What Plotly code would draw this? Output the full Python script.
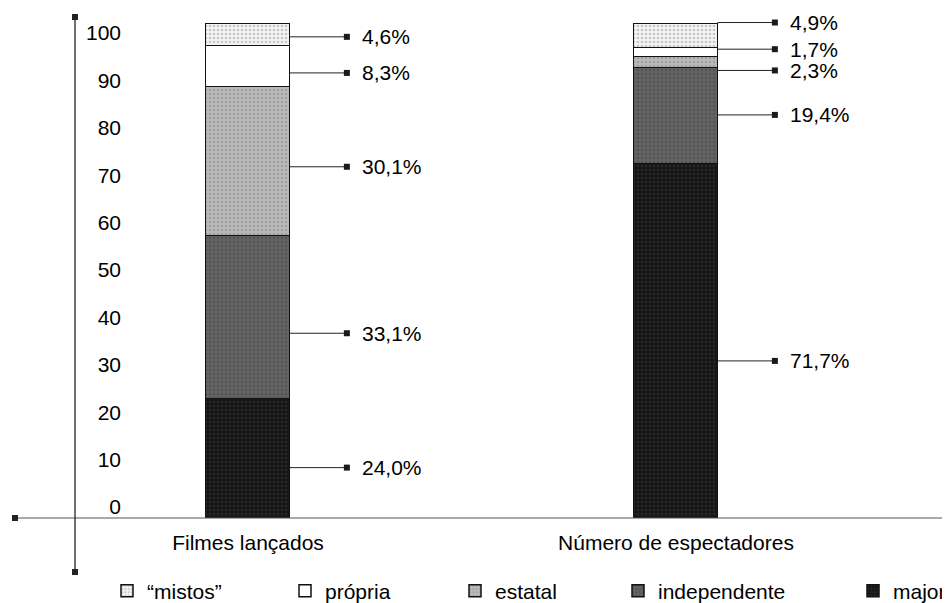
import plotly.graph_objects as go

# ---- data ----
categories = ["Filmes lançados", "Número de espectadores"]
series_names = ["major", "independente", "estatal", "própria", "“mistos”"]
major = [24.0, 71.7]
independente = [33.1, 19.4]
estatal = [30.1, 2.3]
propria = [8.3, 1.7]
mistos = [4.6, 4.9]
y_ticks = [0, 10, 20, 30, 40, 50, 60, 70, 80, 90, 100]

# leader-line anchor heights (data units) for the value labels, per category
label_y_filmes = [10.2, 37.4, 71.1, 90.1, 97.4]
label_y_espect = [31.8, 81.6, 90.6, 94.9, 100.3]

# ---- styling ----
OFF = 8                      # default page margin of the html body
W, H = 950 - OFF, 603 - OFF
ML, MR, MT, MB = 0, 0, 0, 85
PW, PH = W - ML - MR, H - MT - MB
FONT = "Liberation Sans, Arial, sans-serif"
FS = 21
TXT = "#000000"

styles = {
    "major": dict(bg="#161616", fg="#3a3a3a"),
    "independente": dict(bg="#636363", fg="#444444"),
    "estatal": dict(bg="#bababa", fg="#858585"),
    "própria": dict(bg="#ffffff", fg="#ffffff"),
    "“mistos”": dict(bg="#f3f3f3", fg="#9a9a9a"),
}
legend_text_x = {"“mistos”": 147, "própria": 325, "estatal": 495,
                 "independente": 658, "major": 893}
legend_ids = {"“mistos”": "legend", "própria": "legend2", "estatal": "legend3",
              "independente": "legend4", "major": "legend5"}

x_pos = [0, 1]
bar_w = 0.194
UNIT_X = 428.0
x_range = [-(248 - OFF) / UNIT_X, -(248 - OFF) / UNIT_X + PW / UNIT_X]
UNIT_Y = 4.94
y_range = [0, PH / UNIT_Y]
UNIT_T = 4.74
t0 = -11 / UNIT_T
tick_range = [t0, t0 + PH / UNIT_T]

values = [major, independente, estatal, propria, mistos]

fig = go.Figure()
for name, vals in zip(series_names, values):
    st = styles[name]
    fig.add_trace(go.Bar(
        x=x_pos, y=vals, name=name, width=bar_w,
        marker=dict(color=st["bg"], line=dict(color="#111111", width=1.5),
                    pattern=dict(shape="." if name != "própria" else "",
                                 fgcolor=st["fg"], bgcolor=st["bg"],
                                 size=4, solidity=0.35)),
        legend=legend_ids[name],
        hoverinfo="skip",
    ))

# leader lines and value labels
line_start = bar_w / 2
line_end = 0.231
text_x = 0.262
annotations = []
for xi, cat_labels in zip(x_pos, [label_y_filmes, label_y_espect]):
    lx, ly = [], []
    mx, my = [], []
    for k, (name, vals) in enumerate(zip(series_names, values)):
        yv = cat_labels[k]
        lx += [xi + line_start, xi + line_end, None]
        ly += [yv, yv, None]
        mx.append(xi + line_end)
        my.append(yv)
        annotations.append(dict(
            x=xi + text_x, y=yv, xref="x", yref="y",
            text=f"{vals[xi]:.1f}".replace(".", ",") + "%",
            showarrow=False, xanchor="left", yanchor="middle",
            font=dict(family=FONT, size=FS, color=TXT)))
    fig.add_trace(go.Scatter(x=lx, y=ly, mode="lines",
                             line=dict(color="#222222", width=1),
                             showlegend=False, hoverinfo="skip"))
    fig.add_trace(go.Scatter(x=mx, y=my, mode="markers",
                             marker=dict(symbol="square", size=6, color="#1a1a1a"),
                             showlegend=False, hoverinfo="skip"))

# dummy trace so the tick-label axis is drawn
fig.add_trace(go.Scatter(x=[None], y=[None], yaxis="y2", showlegend=False,
                         hoverinfo="skip"))

# reference-picture pixel -> paper coordinates
def px(xp):
    return (xp - OFF - ML) / PW

def py(yp):
    return (H - MB - (yp - OFF)) / PH

shapes = [
    dict(type="line", xref="paper", yref="paper", x0=px(15), x1=px(945),
         y0=py(518), y1=py(518), line=dict(color="#555555", width=1)),
    dict(type="line", xref="paper", yref="paper", x0=px(75), x1=px(75),
         y0=py(17), y1=py(572), line=dict(color="#222222", width=1.3)),
]
for cx, cy in [(15, 518), (945, 518), (75, 17), (75, 572)]:
    shapes.append(dict(type="rect", xref="paper", yref="paper",
                       x0=px(cx - 3), x1=px(cx + 3), y0=py(cy + 3), y1=py(cy - 3),
                       fillcolor="#222222", line=dict(width=0)))

layout_legends = {}
for name, lid in legend_ids.items():
    layout_legends[lid] = dict(
        x=px(legend_text_x[name] - 40), xanchor="left",
        y=py(591), yanchor="middle", orientation="h",
        bgcolor="rgba(0,0,0,0)", borderwidth=0,
        font=dict(family=FONT, size=FS, color=TXT))

fig.update_layout(
    width=W, height=H,
    margin=dict(l=ML, r=MR, t=MT, b=MB, pad=0, autoexpand=False),
    paper_bgcolor="white", plot_bgcolor="white",
    barmode="stack", bargap=0,
    showlegend=True,
    font=dict(family=FONT, size=FS, color=TXT),
    xaxis=dict(range=x_range, tickvals=x_pos, ticktext=categories,
               showgrid=False, zeroline=False, showline=False, ticks="",
               ticklabelstandoff=10,
               tickfont=dict(family=FONT, size=FS, color=TXT)),
    yaxis=dict(range=y_range, showgrid=False, zeroline=False, showline=False,
               showticklabels=False, ticks=""),
    yaxis2=dict(overlaying="y", anchor="free", position=px(121), side="left",
                range=tick_range, tickvals=y_ticks, showgrid=False,
                zeroline=False, showline=False, ticks="",
                tickfont=dict(family=FONT, size=FS, color=TXT)),
    shapes=shapes,
    annotations=annotations,
    **layout_legends,
)

fig.write_html("out.html")
